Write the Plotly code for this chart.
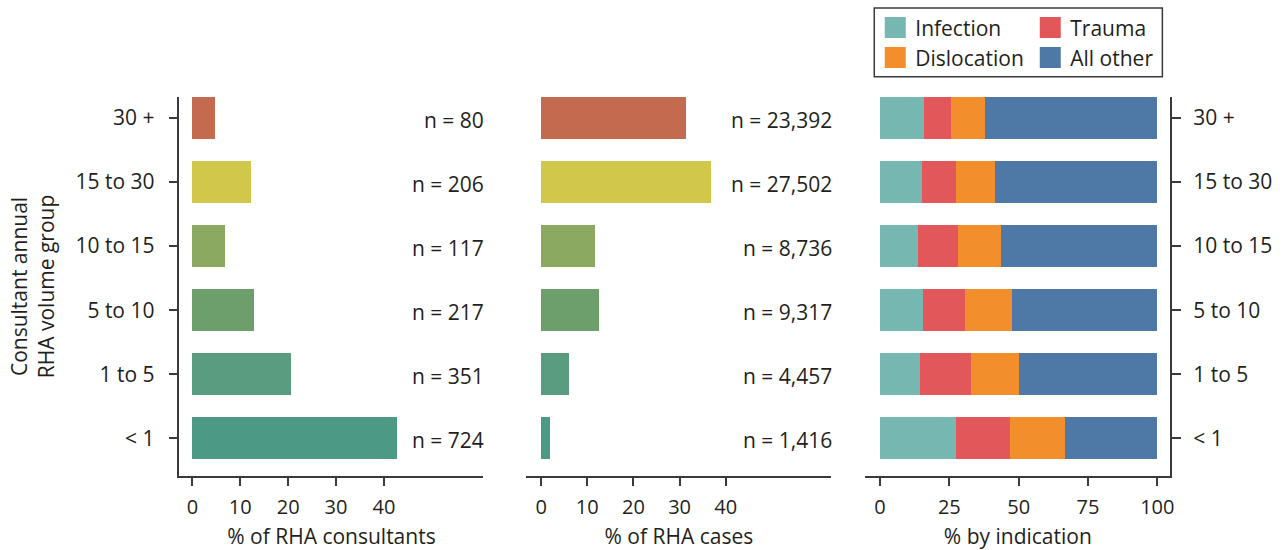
import plotly.graph_objects as go

# ---------------- data ----------------
groups = ["< 1", "1 to 5", "5 to 10", "10 to 15", "15 to 30", "30 +"]
group_colors = ["#4C9A85", "#5A9C80", "#6C9F6C", "#8BA960", "#D1C84B", "#C46A4F"]

consultants_pct = [42.7, 20.7, 12.8, 6.9, 12.2, 4.7]
consultants_n = [724, 351, 217, 117, 206, 80]

cases_pct = [1.9, 6.0, 12.5, 11.7, 36.8, 31.3]
cases_n = [1416, 4457, 9317, 8736, 27502, 23392]

infection = [27.4, 14.5, 15.6, 13.8, 15.2, 15.9]
trauma = [19.4, 18.3, 15.1, 14.3, 12.2, 9.7]
dislocation = [19.8, 17.3, 16.8, 15.5, 14.0, 12.2]
all_other = [33.4, 49.9, 52.5, 56.4, 58.6, 62.2]

indications = ["Infection", "Trauma", "Dislocation", "All other"]
indication_values = [infection, trauma, dislocation, all_other]
indication_colors = ["#76B7B2", "#E1575A", "#F28E2B", "#4E79A7"]
indication_legend = ["legend", "legend", "legend2", "legend2"]

consultant_ticks = [0, 10, 20, 30, 40]
case_ticks = [0, 10, 20, 30, 40]
indication_ticks = [0, 25, 50, 75, 100]

# ---------------- style ----------------
FONT = "Open Sans"
TXT = "#231F20"
LINE = "#3A3A3A"
FS = 21

fig = go.Figure()

fig.add_trace(go.Bar(
    y=groups, x=consultants_pct, orientation="h",
    marker=dict(color=group_colors, line=dict(width=0)),
    xaxis="x", yaxis="y", showlegend=False,
))
fig.add_trace(go.Bar(
    y=groups, x=cases_pct, orientation="h",
    marker=dict(color=group_colors, line=dict(width=0)),
    xaxis="x2", yaxis="y2", showlegend=False,
))
for name, vals, col in zip(indications, indication_values, indication_colors):
    fig.add_trace(go.Bar(
        y=groups, x=vals, orientation="h", name=name,
        marker=dict(color=col, line=dict(width=0)),
        xaxis="x3", yaxis="y3", showlegend=False,
    ))
# legend entries (larger square swatches)
for name, col, lg in zip(indications, indication_colors, indication_legend):
    fig.add_trace(go.Scatter(
        x=[None], y=[None], mode="markers", name=name,
        marker=dict(symbol="square", size=16, color=col, line=dict(color=col, width=5)),
        xaxis="x3", yaxis="y3", legend=lg, showlegend=True, hoverinfo="skip",
    ))

# n labels
for g, n in zip(groups, consultants_n):
    fig.add_annotation(x=60.8, y=g, xref="x", yref="y", text=f"n = {n:,}",
                       xanchor="right", yanchor="middle", showarrow=False, yshift=-2, xshift=3,
                       font=dict(family=FONT, size=FS, color=TXT))
for g, n in zip(groups, cases_n):
    fig.add_annotation(x=62.9, y=g, xref="x2", yref="y2", text=f"n = {n:,}",
                       xanchor="right", yanchor="middle", showarrow=False, yshift=-2, xshift=3,
                       font=dict(family=FONT, size=FS, color=TXT))

ydom = [1 - 477 / 550, 1 - 97 / 550]
yrange = [-0.59, 5.33]

xcommon = dict(showline=True, linecolor=LINE, linewidth=1.5, ticks="outside",
               ticklen=8, tickwidth=1.5, tickcolor=LINE, showgrid=False, zeroline=False,
               ticklabelstandoff=4,
               tickfont=dict(family=FONT, size=20, color=TXT),
               title_font=dict(family=FONT, size=FS, color=TXT))
ycommon = dict(type="category", categoryorder="array", categoryarray=groups,
               range=yrange, domain=ydom, showgrid=False, zeroline=False,
               tickfont=dict(family=FONT, size=FS, color=TXT))

fig.update_layout(
    width=1284, height=550,
    margin=dict(l=0, r=0, t=0, b=0),
    paper_bgcolor="white", plot_bgcolor="white",
    barmode="stack", bargap=0.34,
    font=dict(family=FONT, size=FS, color=TXT),
    xaxis=dict(domain=[180 / 1284, 485 / 1284], range=[-2.7, 60.8], tickvals=consultant_ticks,
               anchor="y", title=dict(text="% of RHA consultants"), **xcommon),
    xaxis2=dict(domain=[528 / 1284, 834 / 1284], range=[-3.2, 62.9], tickvals=case_ticks,
                anchor="y2", title=dict(text="% of RHA cases"), **xcommon),
    xaxis3=dict(domain=[868 / 1284, 1174 / 1284], range=[-5.3, 104.7], tickvals=indication_ticks,
                anchor="y3", title=dict(text="% by indication"), **xcommon),
    yaxis=dict(anchor="x", showline=True, linecolor=LINE, linewidth=1.5, ticks="outside",
               ticklen=9, tickwidth=1.5, tickcolor=LINE, ticklabelstandoff=10,
               title=dict(text="Consultant annual<br>RHA volume group",
                          font=dict(family=FONT, size=FS, color=TXT)),
               **ycommon),
    yaxis2=dict(anchor="x2", showline=False, ticks="", showticklabels=False, **ycommon),
    yaxis3=dict(anchor="x3", side="right", showline=True, linecolor=LINE, linewidth=1.5,
                ticks="outside", ticklen=9, tickwidth=1.5, tickcolor=LINE, ticklabelstandoff=8,
                **ycommon),
    legend=dict(orientation="h", x=878 / 1284, xanchor="left", y=1 - 28 / 550, yanchor="middle",
                entrywidth=110, font=dict(family=FONT, size=FS, color=TXT),
                bgcolor="rgba(0,0,0,0)", borderwidth=0, traceorder="normal",
                itemsizing="trace"),
    legend2=dict(orientation="h", x=878 / 1284, xanchor="left", y=1 - 58 / 550, yanchor="middle",
                 entrywidth=110, font=dict(family=FONT, size=FS, color=TXT),
                 bgcolor="rgba(0,0,0,0)", borderwidth=0, traceorder="normal",
                 itemsizing="trace"),
    shapes=[dict(type="rect", xref="paper", yref="paper",
                 x0=877 / 1284, x1=1166 / 1284, y0=1 - 77 / 550, y1=1 - 8 / 550,
                 line=dict(color=LINE, width=1.5), fillcolor="rgba(0,0,0,0)")],
)

fig.write_html("out.html")
